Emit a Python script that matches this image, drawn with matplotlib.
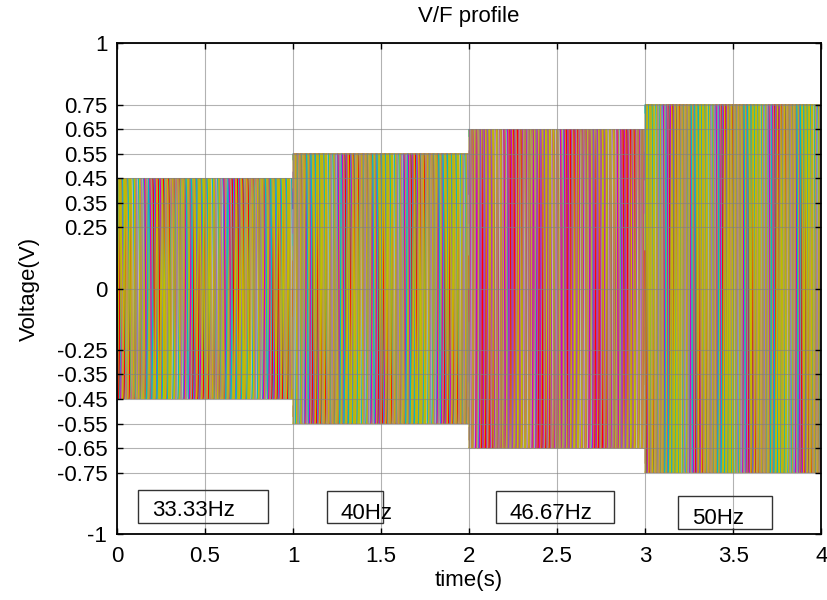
import numpy as np
import matplotlib.pyplot as plt
from matplotlib.patches import Rectangle
from matplotlib.collections import LineCollection

plt.rcParams["font.family"] = ["Liberation Sans", "DejaVu Sans"]

# stepped V/F profile: one second per step
step_start = [0, 1, 2, 3]
step_end = [1, 2, 3, 4]
amplitudes = [0.45, 0.55, 0.65, 0.75]
frequencies = [33.33, 40, 46.67, 50]
freq_labels = ["33.33Hz", "40Hz", "46.67Hz", "50Hz"]

y_ticks = [-1, -0.75, -0.65, -0.55, -0.45, -0.35, -0.25, 0,
           0.25, 0.35, 0.45, 0.55, 0.65, 0.75, 1]
x_ticks = [0, 0.5, 1, 1.5, 2, 2.5, 3, 3.5, 4]

# phase-shifted channels, MATLAB-ish colours
colors = ["#bfbf00", "#cc00cc", "#c09a58", "#00bfbf", "#a8a020",
          "#8a5cc8", "#b8b8b0", "#ff0000", "#b08c50", "#bfbf00",
          "#9a7ab8", "#c8b400", "#d08a30", "#a89878", "#b4b030"]
n_phases = len(colors)

fig = plt.figure(figsize=(8.27, 6.0), dpi=100)
ax = fig.add_axes([0.1415, 0.11, 0.8515, 0.818])

# split every channel into peak-to-peak strokes; within each half-cycle
# block the drawing order of the channels rotates
strokes = []
for t0, t1, a, f in zip(step_start, step_end, amplitudes, frequencies):
    n_half = int(np.ceil(2 * (t1 - t0) * f)) + 2
    for k in range(n_phases):
        tb = t0 + (0.25 + 0.5 * np.arange(-1, n_half) - k / n_phases) / f
        tb = np.clip(tb, t0, t1)
        for ta, tz in zip(tb[:-1], tb[1:]):
            if tz - ta <= 0:
                continue
            t = np.linspace(ta, tz, 16)
            y = a * np.sin(2 * np.pi * f * (t - t0) + 2 * np.pi * k / n_phases)
            block = int(np.floor(ta * f * 2))
            strokes.append(((block, (k * 4 + block * 7) % n_phases),
                            np.column_stack([t, y]), colors[k]))
strokes.sort(key=lambda s: s[0])

ax.add_collection(LineCollection([s[1] for s in strokes],
                                 colors=[s[2] for s in strokes],
                                 linewidths=0.9, zorder=2))

ax.set_xlim(0, 4)
ax.set_ylim(-1, 1)
ax.set_xticks(x_ticks)
ax.set_xticklabels(["0", "0.5", "1", "1.5", "2", "2.5", "3", "3.5", "4"])
ax.set_yticks(y_ticks)
ax.set_yticklabels([("%g" % v) for v in y_ticks])
ax.grid(True, color="#808080", lw=0.8, alpha=0.6, zorder=3)
ax.set_axisbelow(False)
ax.tick_params(direction="in", top=True, right=True, length=4,
               labelsize=16, width=1)
ax.tick_params(axis="x", pad=9)
ax.tick_params(axis="y", pad=7)
for s in ax.spines.values():
    s.set_linewidth(1.3)
    s.set_zorder(5)

ax.set_title("V/F profile", fontsize=16, pad=15)
ax.set_xlabel("time(s)", fontsize=16, labelpad=2)
ax.set_ylabel("Voltage(V)", fontsize=16, labelpad=12)

# frequency text boxes
boxes = [(0.119, -0.955, 0.739, 0.134, 0.199, -0.905),
         (1.193, -0.955, 0.318, 0.130, 1.267, -0.915),
         (2.153, -0.955, 0.671, 0.130, 2.227, -0.915),
         (3.188, -0.980, 0.534, 0.135, 3.267, -0.935)]
for (bx, by, bw, bh, tx, ty), lab in zip(boxes, freq_labels):
    ax.add_patch(Rectangle((bx, by), bw, bh, fill=False, ec="#333333",
                           lw=1.0, zorder=6))
    ax.text(tx, ty, lab, fontsize=16, va="center", ha="left", zorder=7)

fig.savefig("out.png", dpi=100)
